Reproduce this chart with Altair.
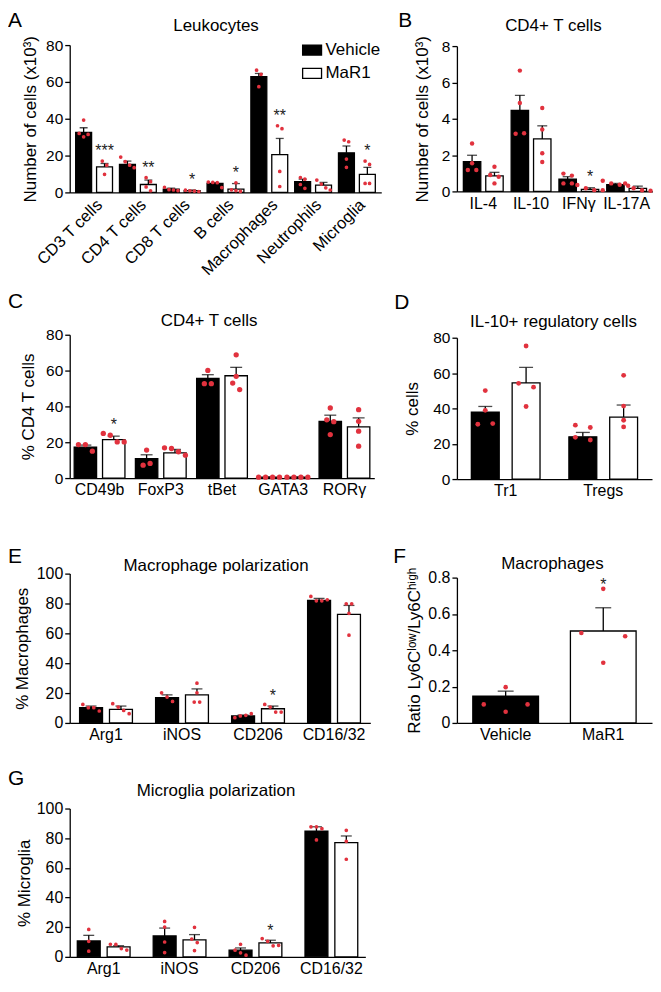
import altair as alt
import pandas as pd

FONT = "Liberation Sans, Arial, Helvetica, sans-serif"
RED = "#e1323e"
SERIES = ["Vehicle", "MaR1"]

# ---------------- Panel A : Leukocytes ----------------
A_CATS = ["CD3 T cells", "CD4 T cells", "CD8 T cells", "B cells", "Macrophages", "Neutrophils", "Microglia"]
A_VEH_MEAN = [32.6, 15.2, 1.7, 4.9, 62.8, 5.8, 21.5]
A_VEH_SEM = [2.5, 1.8, 0.6, 0.4, 1.8, 1.4, 3.7]
A_MAR_MEAN = [13.9, 4.3, 1.0, 1.8, 20.5, 4.0, 9.8]
A_MAR_SEM = [1.8, 2.4, 0.3, 3.0, 8.8, 1.4, 3.8]
A_VEH_PTS = [[39.3, 32.0, 30.2, 31.5], [19.2, 16.7, 14.8, 13.4], [2.8, 1.5, 1.3, 1.0], [5.6, 5.4, 5.3, 2.6],
             [66.4, 64.1, 57.4], [8.1, 7.2, 4.3, 2.2], [28.4, 27.5, 18.1, 13.6]]
A_MAR_PTS = [[17.0, 14.8, 9.8], [8.0, 5.8, 3.0, 0.9], [1.2, 0.9, 0.7, 0.5], [5.2, 1.4, 1.0, 0.6],
             [36.2, 34.6, 11.4, 3.2], [6.7, 4.5, 2.5, 1.3], [17.0, 15.2, 4.9, 4.9]]
A_STARS = ["***", "**", "*", "*", "**", "", "*"]

# ---------------- Panel B : CD4+ T cells (counts) ----------------
B_CATS = ["IL-4", "IL-10", "IFNγ", "IL-17A"]
B_VEH_MEAN = [1.64, 4.46, 0.68, 0.37]
B_VEH_SEM = [0.35, 0.83, 0.13, 0.07]
B_MAR_MEAN = [0.85, 2.89, 0.11, 0.17]
B_MAR_SEM = [0.20, 0.72, 0.09, 0.12]
B_VEH_PTS = [[2.64, 1.55, 1.18, 1.18], [6.65, 4.87, 3.17, 3.20], [0.98, 0.87, 0.44, 0.44], [0.59, 0.44, 0.37, 0.31]]
B_MAR_PTS = [[1.36, 0.90, 0.81, 0.44], [4.59, 3.41, 2.10, 1.62], [0.35, 0.17, 0.07, 0.07], [0.44, 0.17, 0.06, 0.04]]
B_STARS = ["", "", "*", ""]

# ---------------- Panel C : CD4+ T cells (%) ----------------
C_CATS = ["CD49b", "FoxP3", "tBet", "GATA3", "RORγ"]
C_VEH_MEAN = [17.3, 10.8, 55.7, 0.5, 31.7]
C_VEH_SEM = [1.1, 2.2, 2.0, 0.1, 3.4]
C_MAR_MEAN = [21.5, 14.1, 57.1, 0.5, 28.6]
C_MAR_SEM = [1.9, 1.9, 4.7, 0.1, 5.0]
C_VEH_PTS = [[18.7, 18.7, 15.0], [15.6, 7.2, 8.2], [60.1, 52.7, 52.7], [0.5, 0.5, 0.5, 0.5], [39.1, 32.5, 31.5, 24.3]]
C_MAR_PTS = [[24.9, 23.9, 20.2, 20.2], [16.9, 16.5, 14.7, 12.8], [68.8, 56.8, 53.0, 49.4], [0.5, 0.5, 0.5, 0.5],
             [38.2, 31.7, 26.2, 17.8]]
C_STARS = ["*", "", "", "", ""]

# ---------------- Panel D : IL-10+ regulatory cells ----------------
D_CATS = ["Tr1", "Tregs"]
D_VEH_MEAN = [37.9, 23.9]
D_VEH_SEM = [3.2, 2.5]
D_MAR_MEAN = [54.4, 35.1]
D_MAR_SEM = [8.8, 6.8]
D_VEH_PTS = [[50.1, 38.9, 31.0, 31.4], [30.5, 29.2, 23.6, 22.1]]
D_MAR_PTS = [[75.3, 54.2, 52.0, 41.1], [58.7, 41.3, 33.3, 29.5]]
D_STARS = ["", ""]

# ---------------- Panel E : Macrophage polarization ----------------
E_CATS = ["Arg1", "iNOS", "CD206", "CD16/32"]
E_VEH_MEAN = [10.2, 16.9, 4.7, 82.0]
E_VEH_SEM = [1.1, 1.9, 0.6, 1.4]
E_MAR_MEAN = [9.1, 18.8, 9.5, 72.7]
E_MAR_SEM = [2.2, 4.0, 1.8, 6.0]
E_VEH_PTS = [[12.4, 10.2, 10.2, 8.0], [20.2, 17.3, 14.4], [3.5, 4.7, 5.1, 6.2], [84.7, 81.8, 81.8, 82.5]]
E_MAR_PTS = [[12.9, 10.6, 8.4, 6.2], [26.6, 20.2, 14.0, 14.0], [12.4, 10.6, 7.3, 7.3], [79.8, 79.8, 73.4, 58.8]]
E_STARS = ["", "", "*", ""]

# ---------------- Panel F : Macrophages ratio ----------------
F_CATS = ["Vehicle", "MaR1"]
F_MEAN = [0.148, 0.506]
F_SEM = [0.027, 0.128]
F_PTS = [[0.197, 0.102, 0.102, 0.062], [0.738, 0.495, 0.477, 0.331]]
F_STARS = ["", "*"]

# ---------------- Panel G : Microglia polarization ----------------
G_CATS = ["Arg1", "iNOS", "CD206", "CD16/32"]
G_VEH_MEAN = [10.7, 14.1, 4.5, 84.8]
G_VEH_SEM = [3.8, 5.3, 1.5, 2.9]
G_MAR_MEAN = [6.7, 11.4, 9.4, 77.0]
G_MAR_SEM = [0.8, 3.6, 1.8, 4.5]
G_VEH_PTS = [[18.5, 10.5, 3.8], [23.9, 20.1, 10.0, 2.9], [8.5, 4.5, 2.7, 1.1], [87.7, 87.7, 86.4, 78.8]]
G_MAR_PTS = [[8.5, 8.4, 5.6, 4.6], [19.9, 12.0, 9.6, 4.2], [12.3, 10.5, 7.4, 7.8], [85.3, 77.9, 65.8]]
G_STARS = ["", "", "*", ""]


def swarm(vals, ppu, d, s):
    """horizontal pixel offsets so that dots with nearly equal values sit side by side"""
    if not vals:
        return []
    order = sorted(range(len(vals)), key=lambda i: vals[i])
    clusters, cur = [], [order[0]]
    for a, b in zip(order, order[1:]):
        if (vals[b] - vals[a]) * ppu < d + 0.8:
            cur.append(b)
        else:
            clusters.append(cur)
            cur = [b]
    clusters.append(cur)
    off = [0.0] * len(vals)
    for c in clusters:
        c = sorted(c)
        k = len(c)
        for j, i in enumerate(c):
            off[i] = (j - (k - 1) / 2) * s
    return off


FILL = alt.Scale(domain=SERIES, range=["#000000", "#ffffff"])


def annotations(title, tx, ty, letter, lx, ly):
    t = alt.Chart(pd.DataFrame({"t": [title]})).mark_text(
        font=FONT, fontSize=17, align="center", baseline="alphabetic", color="black"
    ).encode(x=alt.value(tx), y=alt.value(ty), text="t:N")
    l = alt.Chart(pd.DataFrame({"t": [letter]})).mark_text(
        font=FONT, fontSize=21, align="left", baseline="alphabetic", color="black"
    ).encode(x=alt.value(lx), y=alt.value(ly), text="t:N")
    return [t, l]


def y_axis(ticks, title, tcx, size):
    # tcx: horizontal centre of the rotated axis title, relative to the axis line
    return alt.Axis(values=ticks, tickCount=len(ticks), title=title, titleFontSize=17, titleFontWeight="normal",
                    titleX=tcx + 5.6, titleBaseline="alphabetic", titleAngle=270,
                    labelFontSize=size, labelPadding=2, tickSize=5, format="~r",
                    labelOverlap=False, grid=False)


def grouped(cats, vm, vs, mm, ms, vp, mp, stars, *, ymax, ticks, ytitle, W, plotW, H, ytop, pi, po, pio,
            dot_d, dot_s, cap, title, tx, ty, letter, lx, ly, tcx, angle=0, legend=False, lsize=16, tsize=15.5,
            sdy=-3):
    n = len(cats)
    ppu = (H - ytop) / ymax
    step = plotW / (n - pi + 2 * po)
    pair = step * (1 - pi)
    ostep = pair / (2 - pio)
    shift = {"Vehicle": -ostep / 2, "MaR1": ostep / 2}

    bars, dots, st = [], [], []
    for i, c in enumerate(cats):
        for ser, m, s, pts in (("Vehicle", vm[i], vs[i], vp[i]), ("MaR1", mm[i], ms[i], mp[i])):
            bars.append({"cat": c, "series": ser, "mean": m, "top": m + s})
            for v, o in zip(pts, swarm(pts, ppu, dot_d, dot_s)):
                dots.append({"cat": c, "series": ser, "value": v, "jx": shift[ser] + o})
        if stars[i]:
            st.append({"cat": c, "series": "MaR1", "star": stars[i], "sy": max([mm[i] + ms[i]] + mp[i])})
    bars = pd.DataFrame(bars)
    dots = pd.DataFrame(dots)
    st = pd.DataFrame(st, columns=["cat", "series", "star", "sy"])

    xs = alt.Scale(domain=cats, range=[0, plotW], paddingInner=pi, paddingOuter=po)
    xos = alt.Scale(domain=SERIES, range=[0, pair], paddingInner=pio, paddingOuter=0)
    ys = alt.Scale(domain=[0, ymax], range=[H, ytop], nice=False, zero=True)
    xax = alt.Axis(title=None, ticks=False, labelFontSize=lsize, labelPadding=4, labelAngle=angle, grid=False)
    leg = None
    if legend:
        leg = alt.Legend(orient="none", legendX=233, legendY=-5.5, title=None, padding=0,
                         symbolType="M-1,-0.53H1V0.53H-1Z", symbolSize=361, symbolStrokeColor="black",
                         symbolStrokeWidth=1.3, labelFontSize=17, labelFont=FONT, labelOffset=3,
                         rowPadding=4.5, labelColor="black")

    base = alt.Chart(bars)
    b = base.mark_bar(stroke="black", strokeWidth=1.3).encode(
        x=alt.X("cat:N", scale=xs, axis=xax),
        xOffset=alt.XOffset("series:N", scale=xos),
        y=alt.Y("mean:Q", scale=ys, axis=y_axis(ticks, ytitle, tcx, tsize)),
        fill=alt.Fill("series:N", scale=FILL, legend=leg),
    )
    r = base.mark_rule(color="black", strokeWidth=1.3).encode(
        x="cat:N", xOffset="series:N", y="mean:Q", y2="top:Q")
    t = base.mark_tick(color="black", thickness=1.3, size=cap).encode(
        x="cat:N", xOffset="series:N", y="top:Q")
    d = alt.Chart(dots).mark_circle(size=3.1416 * (dot_d / 2) ** 2, color=RED, opacity=1,
                                    xOffset=alt.ExprRef("datum.jx")).encode(x="cat:N", y="value:Q")
    layers = [b, r, t, d]
    if len(st):
        layers.append(alt.Chart(st).mark_text(font=FONT, fontSize=16, baseline="alphabetic", dy=sdy,
                                              color="#222222").encode(
            x="cat:N", xOffset="series:N", y="sy:Q", text="star:N"))
    layers += annotations(title, tx, ty, letter, lx, ly)
    return alt.layer(*layers).properties(width=W, height=H)


def single(cats, mean, sem, pts, stars, *, ymax, ticks, ytitle, W, H, ytop, pi, po, dot_d, dot_s, cap,
           title, tx, ty, letter, lx, ly, tcx, tsize=16, sdy=0):
    ppu = (H - ytop) / ymax
    bars, dots, st = [], [], []
    for i, c in enumerate(cats):
        bars.append({"cat": c, "mean": mean[i], "top": mean[i] + sem[i]})
        for v, o in zip(pts[i], swarm(pts[i], ppu, dot_d, dot_s)):
            dots.append({"cat": c, "value": v, "jx": o})
        if stars[i]:
            st.append({"cat": c, "star": stars[i], "sy": max([mean[i] + sem[i]] + pts[i])})
    bars = pd.DataFrame(bars)
    dots = pd.DataFrame(dots)
    st = pd.DataFrame(st, columns=["cat", "star", "sy"])
    xs = alt.Scale(domain=cats, range=[0, W], paddingInner=pi, paddingOuter=po)
    ys = alt.Scale(domain=[0, ymax], range=[H, ytop], nice=False, zero=True)
    xax = alt.Axis(title=None, ticks=False, labelFontSize=16, labelPadding=4, labelAngle=0, grid=False)
    base = alt.Chart(bars)
    b = base.mark_bar(stroke="black", strokeWidth=1.3).encode(
        x=alt.X("cat:N", scale=xs, axis=xax),
        y=alt.Y("mean:Q", scale=ys, axis=y_axis(ticks, ytitle, tcx, tsize)),
        fill=alt.Fill("cat:N", scale=FILL, legend=None),
    )
    r = base.mark_rule(color="black", strokeWidth=1.3).encode(x="cat:N", y="mean:Q", y2="top:Q")
    t = base.mark_tick(color="black", thickness=1.3, size=cap).encode(x="cat:N", y="top:Q")
    d = alt.Chart(dots).mark_circle(size=3.1416 * (dot_d / 2) ** 2, color=RED, opacity=1,
                                    xOffset=alt.ExprRef("datum.jx")).encode(x="cat:N", y="value:Q")
    s = alt.Chart(st).mark_text(font=FONT, fontSize=16, baseline="alphabetic", dy=sdy, color="#222222").encode(
        x="cat:N", y="sy:Q", text="star:N")
    layers = [b, r, t, d, s] + annotations(title, tx, ty, letter, lx, ly)
    return alt.layer(*layers).properties(width=W, height=H)


pA = grouped(A_CATS, A_VEH_MEAN, A_VEH_SEM, A_MAR_MEAN, A_MAR_SEM, A_VEH_PTS, A_MAR_PTS, A_STARS,
             ymax=80, ticks=[0, 20, 40, 60, 80], ytitle="Number of cells (x10³)", W=313, plotW=313, H=148,
             ytop=0, pi=0.159, po=0.136, pio=0.238, dot_d=4.2, dot_s=4.5, cap=8, title="Leukocytes",
             tx=147, ty=-14.5, letter="A", lx=-62, ly=-18, tcx=-40, angle=-45, legend=True, lsize=16.5, sdy=-5)
pB = grouped(B_CATS, B_VEH_MEAN, B_VEH_SEM, B_MAR_MEAN, B_MAR_SEM, B_VEH_PTS, B_MAR_PTS, B_STARS,
             ymax=8, ticks=[0, 2, 4, 6, 8], ytitle="Number of cells (x10³)", W=197, plotW=197, H=147,
             ytop=1, pi=0.167, po=0.135, pio=0.222, dot_d=5, dot_s=8.5, cap=10, title="CD4+ T cells",
             tx=97, ty=-14, letter="B", lx=-59, ly=-18, tcx=-35)
pC = grouped(C_CATS, C_VEH_MEAN, C_VEH_SEM, C_MAR_MEAN, C_MAR_SEM, C_VEH_PTS, C_MAR_PTS, C_STARS,
             ymax=80, ticks=[0, 20, 40, 60, 80], ytitle="% CD4 T cells", W=315, plotW=306, H=201,
             ytop=57, pi=0.171, po=0.073, pio=0.21, dot_d=6, dot_s=7, cap=12, title="CD4+ T cells",
             tx=140, ty=48, letter="C", lx=-62, ly=30, tcx=-42)
pD = grouped(D_CATS, D_VEH_MEAN, D_VEH_SEM, D_MAR_MEAN, D_MAR_SEM, D_VEH_PTS, D_MAR_PTS, D_STARS,
             ymax=80, ticks=[0, 20, 40, 60, 80], ytitle="% cells", W=196, plotW=196, H=202,
             ytop=60, pi=0.296, po=0.148, pio=0.317, dot_d=5.5, dot_s=15, cap=14,
             title="IL-10+ regulatory cells", tx=97, ty=49, letter="D", lx=-63, ly=31, tcx=-45)
pE = grouped(E_CATS, E_VEH_MEAN, E_VEH_SEM, E_MAR_MEAN, E_MAR_SEM, E_VEH_PTS, E_MAR_PTS, E_STARS,
             ymax=100, ticks=[0, 20, 40, 60, 80, 100], ytitle="% Macrophages", W=316, plotW=302, H=159,
             ytop=9, pi=0.305, po=0.13, pio=0.233, dot_d=4.2, dot_s=5.5, cap=11,
             title="Macrophage polarization", tx=147, ty=6, letter="E", lx=-62, ly=-2, tcx=-48, tsize=16)
pF = single(F_CATS, F_MEAN, F_SEM, F_PTS, F_STARS, ymax=0.8, ticks=[0, 0.2, 0.4, 0.6, 0.8],
            ytitle="Ratio Ly6Cˡᵒʷ/Ly6Cʰⁱᵍʰ", W=196, H=159, ytop=13, pi=0.327, po=0.163, dot_d=5.2,
            dot_s=44, cap=16, title="Macrophages", tx=96, ty=4, letter="F", lx=-64, ly=-2, tcx=-43, sdy=1)
pG = grouped(G_CATS, G_VEH_MEAN, G_VEH_SEM, G_MAR_MEAN, G_MAR_SEM, G_VEH_PTS, G_MAR_PTS, G_STARS,
             ymax=100, ticks=[0, 20, 40, 60, 80, 100], ytitle="% Microglia", W=297, plotW=297, H=149,
             ytop=0, pi=0.305, po=0.1, pio=0.233, dot_d=4.2, dot_s=5.5, cap=11,
             title="Microglia polarization", tx=147, ty=-13, letter="G", lx=-62, ly=-24, tcx=-46, tsize=16)

chart = alt.concat(pA, pB, pC, pD, pE, pF, pG, columns=2, spacing={"row": 86, "column": 73},
                   bounds="flush", align="none").properties(padding=0).resolve_scale(xOffset="independent")
chart = chart.configure(font=FONT).configure_view(stroke=None).configure_axis(
    domainColor="black", domainWidth=1.3, tickColor="black", tickWidth=1.3, labelColor="black",
    titleColor="black", labelFont=FONT, titleFont=FONT, grid=False)

chart.save("out.html", embed_options={"renderer": "svg", "actions": False})
